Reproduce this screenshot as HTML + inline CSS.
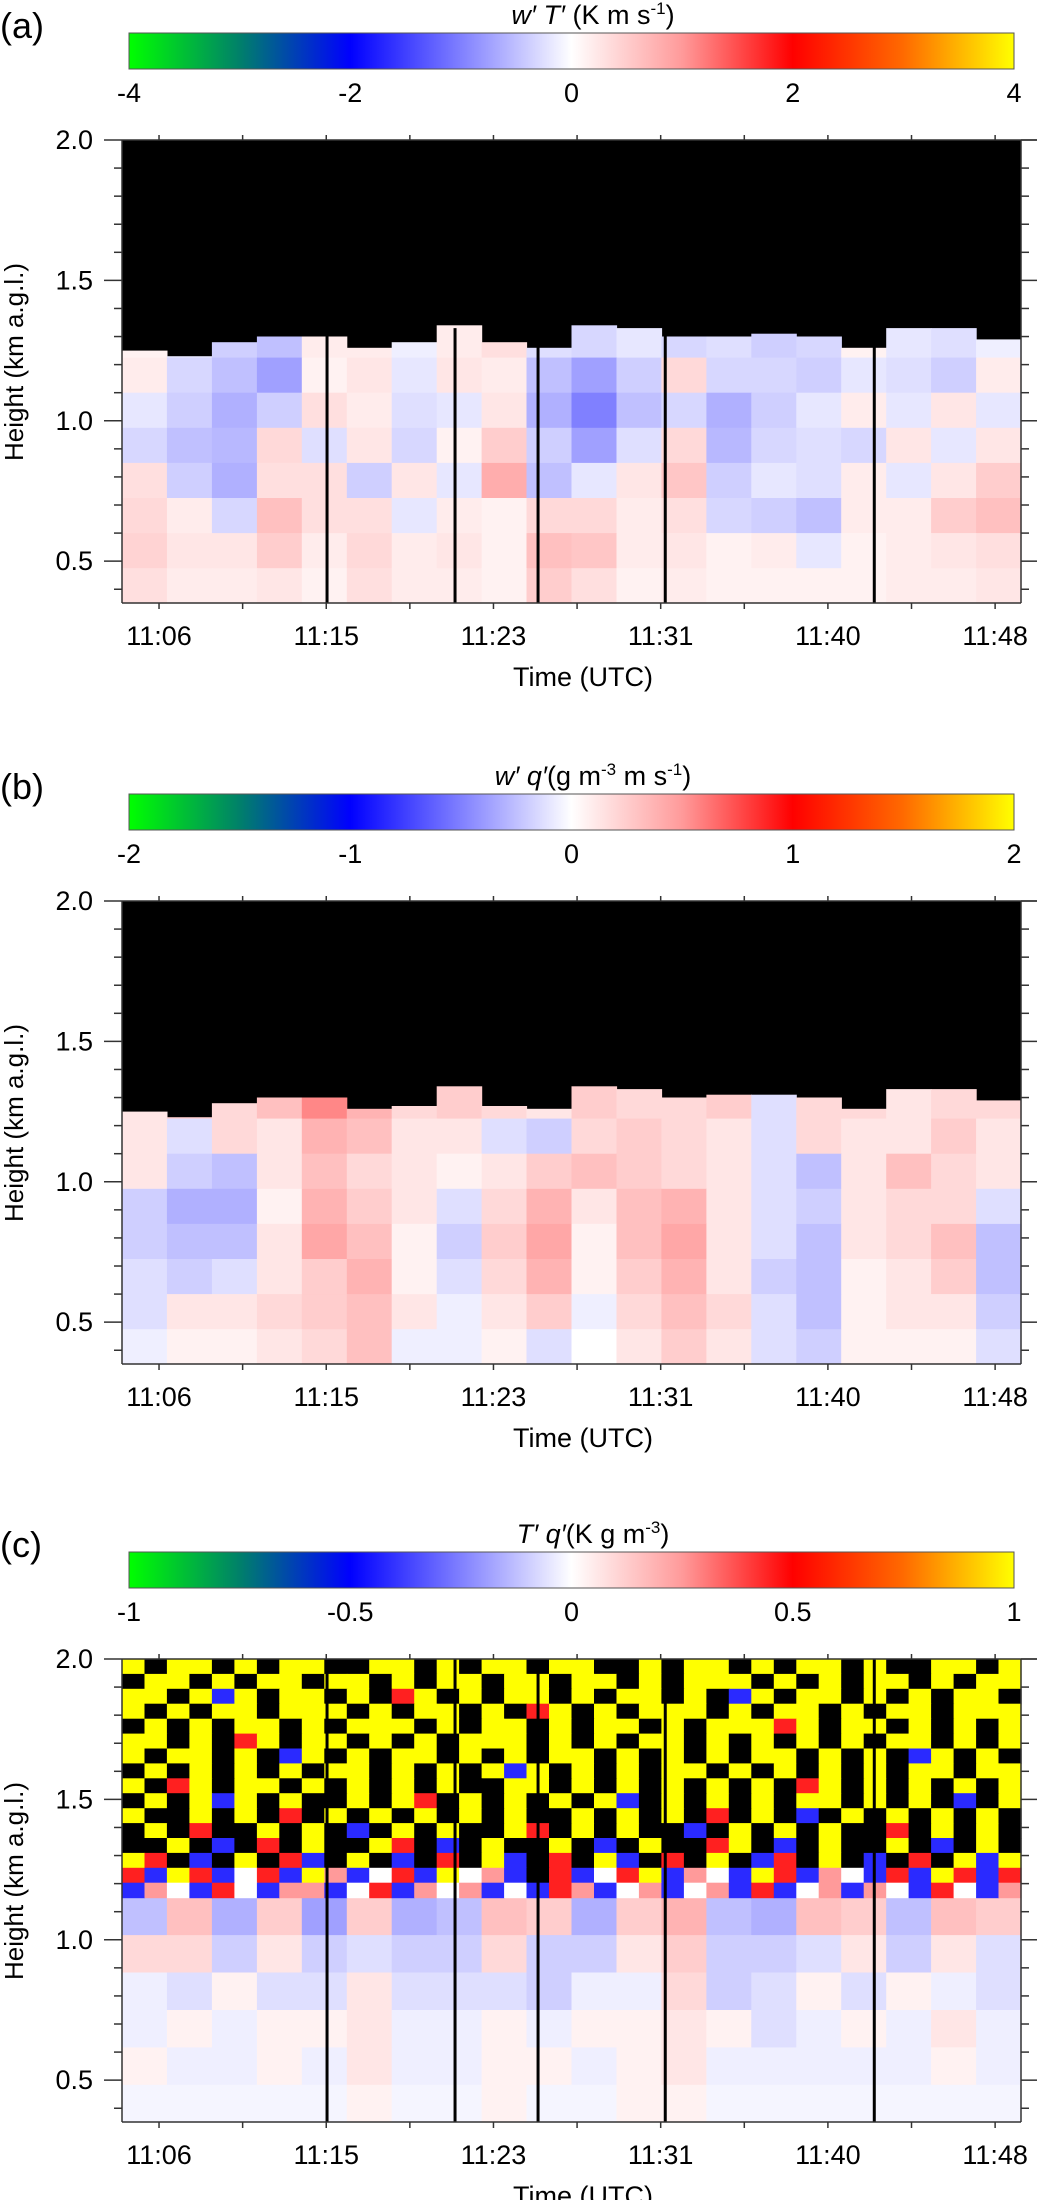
<!DOCTYPE html>
<html><head><meta charset="utf-8">
<style>
html,body{margin:0;padding:0;background:#fff;}
svg{display:block;font-family:"Liberation Sans",sans-serif;}
</style></head>
<body>
<svg id="fig" width="1043" height="2200" viewBox="0 0 1043 2200" xmlns="http://www.w3.org/2000/svg">
<defs>
<linearGradient id="cmap" x1="0" x2="1" y1="0" y2="0">
<stop offset="0" stop-color="#00ff00"/>
<stop offset="0.125" stop-color="#00806a"/>
<stop offset="0.25" stop-color="#0000ff"/>
<stop offset="0.375" stop-color="#8080ff"/>
<stop offset="0.5" stop-color="#ffffff"/>
<stop offset="0.625" stop-color="#ff9a9a"/>
<stop offset="0.75" stop-color="#ff0000"/>
<stop offset="0.875" stop-color="#ff6a00"/>
<stop offset="1" stop-color="#ffff00"/>
</linearGradient>
</defs>
</svg>
<script>
// ---- shared axis data ----
const tickMinutes = [6, 14.4, 22.8, 31.2, 39.6, 48];
const tickLabels = ["11:06", "11:15", "11:23", "11:31", "11:40", "11:48"];
const yTicks = [0.5, 1.0, 1.5, 2.0];
const yTickLabels = ["0.5", "1.0", "1.5", "2.0"];
const gapTimes = [14.44, 20.87, 25.04, 31.43, 41.93];
const colCount = 20;
const tStart = 4.14, tEnd = 49.3;

// ---- panel (a) data: w'T' ----
const boundaryA = [1.25,1.23,1.28,1.30,1.30,1.26,1.28,1.34,1.28,1.26,1.34,1.33,1.30,1.30,1.31,1.30,1.26,1.33,1.33,1.29];
const valuesA = [
 [0.2,-0.3,-0.6,-0.8,0.3,0.3,-0.2,0.3,0.5,-0.4,-0.5,-0.3,-0.5,-0.4,-0.6,-0.5,0.2,-0.3,-0.4,-0.2],
 [0.3,-0.5,-0.8,-1.2,0.2,0.4,-0.3,0.4,0.3,-0.8,-1.2,-0.6,0.6,-0.5,-0.5,-0.6,-0.3,-0.4,-0.6,0.3],
 [-0.3,-0.6,-1.0,-0.6,0.5,0.3,-0.4,-0.3,0.4,-1.0,-1.6,-0.8,-0.5,-1.0,-0.6,-0.3,0.3,-0.3,0.4,-0.3],
 [-0.5,-0.8,-0.9,0.6,-0.4,0.4,-0.5,0.2,0.8,-0.6,-1.2,-0.4,0.6,-0.9,-0.5,-0.4,-0.5,0.4,-0.3,0.4],
 [0.5,-0.6,-1.0,0.5,0.5,-0.6,0.4,-0.3,1.3,-0.8,-0.3,0.4,0.9,-0.6,-0.3,-0.4,0.3,-0.3,0.4,0.8],
 [0.6,0.3,-0.5,1.0,0.5,0.5,-0.3,0.3,0.2,0.6,0.6,0.3,0.5,-0.5,-0.6,-0.8,0.3,0.3,0.8,1.0],
 [0.7,0.4,0.4,0.8,0.3,0.6,0.3,0.4,0.2,1.0,0.9,0.3,0.4,0.2,0.3,-0.3,0.2,0.3,0.4,0.5],
 [0.5,0.3,0.3,0.4,0.2,0.5,0.3,0.3,0.2,0.8,0.5,0.2,0.3,0.2,0.2,0.2,0.2,0.3,0.3,0.4]
];
// ---- panel (b) data: w'q' ----
const boundaryB = [1.25,1.23,1.28,1.30,1.30,1.26,1.27,1.34,1.27,1.26,1.34,1.33,1.30,1.31,1.31,1.30,1.26,1.33,1.33,1.29];
const valuesB = [
 [0.2,0.4,0.3,0.5,0.9,0.6,0.3,0.4,0.3,0.2,0.4,0.3,0.3,0.4,-0.2,0.3,0.3,0.2,0.3,0.3],
 [0.2,-0.2,0.3,0.2,0.6,0.5,0.2,0.2,-0.2,-0.3,0.3,0.4,0.3,0.2,-0.2,0.3,0.2,0.2,0.4,0.2],
 [0.2,-0.3,-0.4,0.2,0.5,0.3,0.2,0.1,0.2,0.4,0.5,0.4,0.3,0.2,-0.2,-0.4,0.2,0.5,0.3,0.2],
 [-0.3,-0.5,-0.5,0.1,0.6,0.4,0.2,-0.2,0.3,0.6,0.2,0.5,0.6,0.2,-0.2,-0.3,0.2,0.3,0.3,-0.2],
 [-0.3,-0.4,-0.4,0.2,0.7,0.5,0.1,-0.3,0.4,0.7,0.1,0.5,0.7,0.2,-0.2,-0.4,0.2,0.3,0.5,-0.4],
 [-0.2,-0.3,-0.2,0.2,0.4,0.6,0.1,-0.2,0.3,0.6,0.1,0.4,0.6,0.2,-0.3,-0.4,0.1,0.2,0.4,-0.4],
 [-0.2,0.2,0.2,0.3,0.4,0.5,0.2,-0.1,0.2,0.4,-0.1,0.3,0.5,0.3,-0.2,-0.4,0.1,0.2,0.2,-0.3],
 [-0.1,0.1,0.1,0.2,0.3,0.5,-0.1,-0.1,0.1,-0.2,0.0,0.2,0.4,0.2,-0.2,-0.3,0.1,0.1,0.1,-0.2]
];
// ---- panel (c) data: T'q' ----
const boundaryC = [1.15,1.15,1.15,1.15,1.15,1.15,1.15,1.15,1.15,1.15,1.15,1.15,1.15,1.15,1.15,1.15,1.15,1.15,1.15,1.15];
const valuesC = [
 [-0.2,0.25,-0.25,0.2,-0.3,0.2,-0.25,-0.2,0.25,0.2,-0.25,0.2,0.3,-0.2,-0.25,0.25,0.2,-0.2,0.25,0.2],
 [0.15,0.15,-0.15,0.1,-0.15,-0.1,-0.15,-0.15,0.15,-0.15,-0.15,0.1,0.2,-0.15,-0.15,-0.1,0.1,-0.15,0.1,-0.1],
 [-0.05,-0.1,0.05,-0.1,-0.1,0.1,-0.1,-0.1,-0.1,-0.15,-0.05,-0.05,0.15,-0.15,-0.1,0.05,-0.1,0.05,-0.05,-0.1],
 [-0.05,0.05,-0.05,0.05,0.05,0.1,-0.05,-0.05,0.05,-0.05,0.05,0.05,0.1,0.05,-0.1,-0.05,0.05,-0.05,0.1,-0.05],
 [0.05,-0.05,-0.05,0.05,-0.05,0.1,-0.05,-0.05,0.05,0.05,-0.05,0.05,0.1,-0.05,-0.05,-0.05,-0.05,-0.05,0.05,-0.05],
 [-0.03,-0.03,-0.03,-0.03,-0.03,0.05,-0.03,-0.03,0.05,-0.03,-0.03,0.05,0.05,-0.03,-0.03,-0.03,-0.03,-0.03,-0.03,-0.03]
];
const noiseC = [
 "YKYYKYKYYKKYYKYKYYKYYKKYKYYKYKYYKYKKYYKY",
 "KYYKYKYYKYYKYKYYKYYKYYKYKYYYKYKYKYYKYKYY",
 "YYKYBYKYYKYKRYKYKYYKYKYYKYKBYKYYKYKYKYYK",
 "YKYKYYKYYYKYKYYKYKRYKYKYYYKYKYYKYKYYKYYY",
 "KYKYKYYKYKYYYKYKYYKYKYYKYKYYYRYKYYKYKYKY",
 "YYKYKRYKYYKYKYKYYYKYKYKYYKYKYKYKYKYYKYKY",
 "YKYYKYKBYKYKYYKYKYKYYKYKYKYKYYKYKYKBYKYK",
 "KYKYKYKYKYYKYKYKYBYKYKYKYYKYKYKYKYKYYKYY",
 "YKRYKYYKYKYKYKYKKYYKYKYKYKYKYKRYKYKYKYKY",
 "KYKYBYKYKKYKYRKYKYKYKYBKYKYKYKYYKYKYKBKY",
 "YKKYKYKRKYKYKYKYKYKKYKYKYKRKYKBKYKYKYKYK",
 "KYKRKKYKYKBKYKYKKYRKYKYKKBKYKYKYKKRKYKYK",
 "KKYKBKRKYKKYRKBKYKKYKBKYKKRYKBKYKKYKBKYK",
 "YRKBKYKRBKYKBKRKYBKRKYBKRKYKBRKYKBKRKYBY",
 "RBYRBWRBYPBWRBYWPBKRBWRYBPWBYRBPWBRBYRBR",
 "BPWBRWBPPBWRBPWPBWBRPBWPBWPBRBWPBPWBRWBP"
];

// ---- rendering ----
const NS = "http://www.w3.org/2000/svg";
const svg = document.getElementById("fig");
const PL = 122, PR = 1021, PT = 140, PB = 603;
const H0 = 0.351, H1 = 2.0;
function xs(t){ const k = (PR - PL) / (tEnd - tStart); return PL + (t - tStart) * k; }
function ys(h, O){ return O + PT + (H1 - h) * (PB - PT) / (H1 - H0); }
function mk(tag, attrs, parent){
  const e = document.createElementNS(NS, tag);
  for (const k in attrs) e.setAttribute(k, attrs[k]);
  (parent || svg).appendChild(e);
  return e;
}
const stops = [[0,[0,255,0]],[0.125,[0,128,106]],[0.25,[0,0,255]],[0.375,[128,128,255]],[0.5,[255,255,255]],[0.625,[255,154,154]],[0.75,[255,0,0]],[0.875,[255,106,0]],[1,[255,255,0]]];
function cmap(v, vmax){
  let p = (Math.max(-vmax, Math.min(vmax, v)) / vmax + 1) / 2;
  for (let i = 0; i < stops.length - 1; i++){
    const a = stops[i], b = stops[i+1];
    if (p <= b[0]){
      const f = (p - a[0]) / (b[0] - a[0]);
      const c = a[1].map((x, j) => Math.round(x + (b[1][j] - x) * f));
      return "rgb(" + c.join(",") + ")";
    }
  }
  return "rgb(255,255,0)";
}
const noiseColors = {Y:"#ffff00", K:"#000000", R:"#ff2020", B:"#2a2aff", G:"#10c040", W:"#ffffff", P:"#ff9a9a"};

const panels = [
  {O:0, tag:"(a)", vmax:4, cbTicks:["-4","-2","0","2","4"], boundary:boundaryA, values:valuesA, rowTop:1.35, rowBot:0.35, gaps:true, gapTop:1.33, noise:null, titleParts:[["w′ T′",true],[" (K m s",false],["-1",false,true],[")",false]]},
  {O:761, tag:"(b)", vmax:2, cbTicks:["-2","-1","0","1","2"], boundary:boundaryB, values:valuesB, rowTop:1.35, rowBot:0.35, gaps:false, noise:null, titleParts:[["w′ q′",true],["(g m",false],["-3",false,true],[" m s",false],["-1",false,true],[")",false]]},
  {O:1519, tag:"(c)", vmax:1, cbTicks:["-1","-0.5","0","0.5","1"], boundary:boundaryC, values:valuesC, rowTop:1.15, rowBot:0.35, gaps:true, gapTop:2.0, noise:noiseC, titleParts:[["T′ q′",true],["(K g m",false],["-3",false,true],[")",false]]}
];
const names = ["a","b","c"];

panels.forEach((P, pi) => {
  const O = P.O, nm = names[pi];
  const g = mk("g", {});
  
  

  const lab = mk("text", {x:0, y:O+38, "font-size":36, fill:"#000"}, g);
  lab.textContent = P.tag;
  
  

  const tt = mk("text", {x:593, y:O+24, "font-size":27, "text-anchor":"middle", fill:"#000"}, g);
  
  
  let prevSup = false;
  P.titleParts.forEach(p => {
    const ts = mk("tspan", {}, tt);
    if (p[1]) ts.setAttribute("font-style", "italic");
    if (p[2]){ ts.setAttribute("font-size", 17); ts.setAttribute("dy", -10); prevSup = true; }
    else if (prevSup){ ts.setAttribute("dy", 10); prevSup = false; }
    ts.textContent = p[0];
  });

  const cb = mk("rect", {x:129, y:O+33, width:885, height:36, fill:"url(#cmap)", stroke:"#555", "stroke-width":1}, g);
  
  
  P.cbTicks.forEach((s, i) => {
    const x = 129 + i * 885 / 4;
    const t = mk("text", {x:x, y:O+102, "font-size":27, "text-anchor":"middle", fill:"#000"}, g);
    t.textContent = s;
    
    
  });

  const hm = mk("g", {}, g);
  
  
  mk("rect", {x:PL, y:O+PT, width:PR-PL, height:PB-PT, fill:"#000"}, hm);
  const dt = (tEnd - tStart) / colCount;
  const nRows = P.values.length;
  const rh = (P.rowTop - P.rowBot) / nRows;
  for (let r = 0; r < nRows; r++){
    for (let c = 0; c < colCount; c++){
      const top = Math.min(P.rowTop - r * rh, P.boundary[c]);
      const bot = P.rowTop - (r + 1) * rh;
      if (top <= bot) continue;
      const x0 = xs(tStart + c * dt), x1 = xs(tStart + (c + 1) * dt);
      const y0 = ys(top, O), y1 = ys(Math.max(bot, H0), O);
      const cell = mk("rect", {x:x0.toFixed(1), y:y0.toFixed(1), width:(x1-x0+0.6).toFixed(1), height:(y1-y0+0.6).toFixed(1), fill:cmap(P.values[r][c], P.vmax * 1.6)}, hm);
      
      
    }
  }
  if (P.noise){
    const nr = P.noise.length, nc = P.noise[0].length;
    const nh = (2.0 - P.rowTop) / nr, ndt = (tEnd - tStart) / nc;
    for (let r = 0; r < nr; r++){
      for (let c = 0; c < nc; c++){
        const x0 = xs(tStart + c * ndt), x1 = xs(tStart + (c + 1) * ndt);
        const y0 = ys(2.0 - r * nh, O), y1 = ys(2.0 - (r + 1) * nh, O);
        const cell = mk("rect", {x:x0.toFixed(1), y:y0.toFixed(1), width:(x1-x0+0.6).toFixed(1), height:(y1-y0+0.6).toFixed(1), fill:noiseColors[P.noise[r][c]]}, hm);
        
        
      }
    }
  }
  if (P.gaps){
    gapTimes.forEach(t => {
      const ln = mk("line", {x1:xs(t), x2:xs(t), y1:ys(H0, O), y2:ys(P.gapTop, O), stroke:"#000", "stroke-width":3}, g);
      
      
    });
  }

  const ax = mk("g", {stroke:"#333", "stroke-width":1.5, fill:"none"}, g);
  
  
  mk("line", {x1:PL, x2:PL, y1:O+PT, y2:O+PB}, ax);
  mk("line", {x1:PL, x2:PR, y1:O+PB, y2:O+PB}, ax);
  mk("line", {x1:PL, x2:1037, y1:O+PT, y2:O+PT}, ax);
  mk("line", {x1:PR, x2:PR, y1:O+PT, y2:O+PB}, ax);
  for (let h = 0.4; h <= 2.0001; h += 0.1){
    const major = Math.abs(h * 2 - Math.round(h * 2)) < 1e-6;
    const y = ys(h, O);
    mk("line", {x1:PL - (major ? 18 : 8), x2:PL, y1:y, y2:y}, ax);
    mk("line", {x1:PR, x2:PR + (major ? 16 : 8), y1:y, y2:y}, ax);
  }
  const step = tickMinutes[1] - tickMinutes[0];
  for (let t = tickMinutes[0] - step / 2; t < tEnd; t += step / 2){
    if (t < tStart) continue;
    const x = xs(t);
    mk("line", {x1:x, x2:x, y1:O+PB, y2:O+PB+6}, ax);
    mk("line", {x1:x, x2:x, y1:O+PT, y2:O+PT-5}, ax);
  }
  yTicks.forEach((h, i) => {
    const t = mk("text", {x:93, y:ys(h, O) + 9, "font-size":27, "text-anchor":"end", fill:"#000"}, g);
    t.textContent = yTickLabels[i];
    
    
  });
  tickMinutes.forEach((m, i) => {
    const t = mk("text", {x:xs(m), y:O+645, "font-size":27, "text-anchor":"middle", fill:"#000"}, g);
    t.textContent = tickLabels[i];
    
    
  });
  const xt = mk("text", {x:583, y:O+686, "font-size":27, "text-anchor":"middle", fill:"#000"}, g);
  xt.textContent = "Time (UTC)";
  
  
  const yt = mk("text", {x:0, y:0, "font-size":26, "text-anchor":"middle", fill:"#000", transform:"translate(23," + (O+362) + ") rotate(-90)"}, g);
  yt.textContent = "Height (km a.g.l.)";
  
  
});
</script>
</body></html>
